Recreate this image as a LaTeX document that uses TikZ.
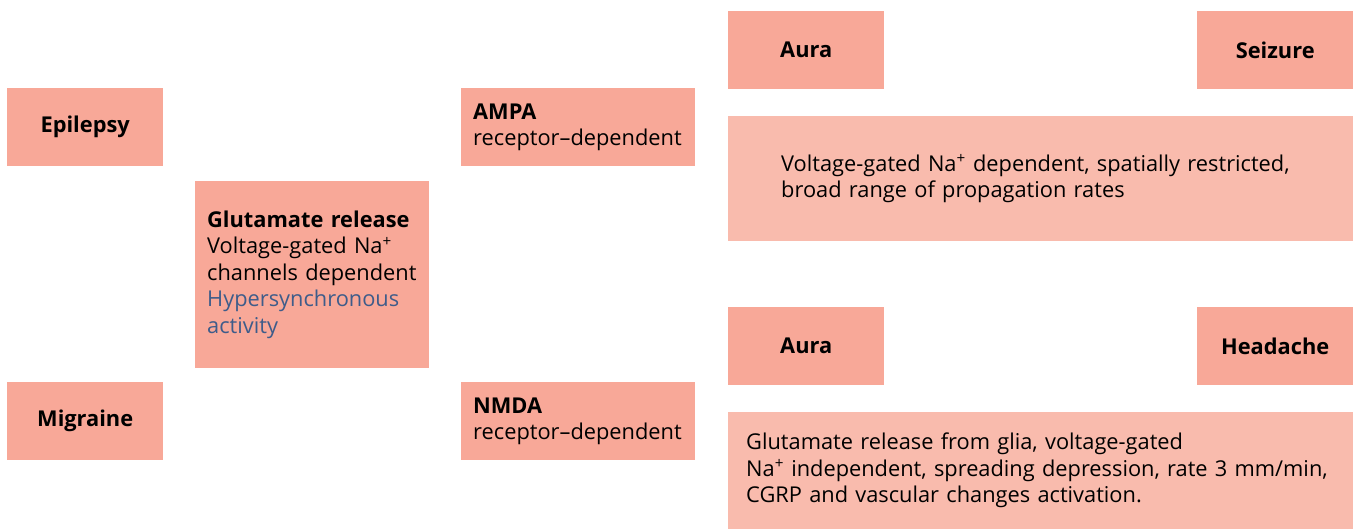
\documentclass[tikz,border=0pt]{standalone}
\usepackage{fontspec}
\setmainfont{Open Sans}
\definecolor{boxdark}{HTML}{F8A898}
\definecolor{boxlight}{HTML}{F9BBAD}
\definecolor{bluetext}{HTML}{3E5C8A}
\tikzset{
  x=1pt,y=1pt,
  base/.style={rectangle,draw=none,inner ysep=0pt,font=\fontsize{21.8}{26.5}\selectfont,anchor=north west},
  titlebox/.style={base,fill=boxdark,minimum width=156pt,minimum height=78pt,inner xsep=0pt,font=\fontsize{21.8}{26.5}\selectfont\bfseries},
  textbox/.style={base,fill=boxdark,align=left},
  infobox/.style={base,fill=boxlight,align=left},
}
\begin{document}
\begin{tikzpicture}
\useasboundingbox (0,0) rectangle (1354,530);
\node[titlebox] (epi) at (7,442) {Epilepsy};
\node[titlebox] (mig) at (7,148) {Migraine};
\node[textbox,text width=210pt,inner xsep=12pt,minimum height=187pt] (glu) at (195,349)
  {\textbf{Glutamate release}\\Voltage-gated Na\textsuperscript{+}\\channels dependent\\\textcolor{bluetext}{Hypersynchronous}\\\textcolor{bluetext}{activity}};
\node[textbox,text width=210pt,inner xsep=12pt,minimum height=78pt] (ampa) at (461,442)
  {\textbf{AMPA}\\receptor–dependent};
\node[textbox,text width=210pt,inner xsep=12pt,minimum height=78pt] (nmda) at (461,148)
  {\textbf{NMDA}\\receptor–dependent};
\node[titlebox] (aura1) at (728,519) {Aura};
\node[titlebox] (seiz) at (1197,519) {Seizure};
\node[infobox,text width=519pt,inner xsep=53pt,minimum height=125pt] (info1) at (728,414)
  {Voltage-gated Na\textsuperscript{+} dependent, spatially restricted,\\broad range of propagation rates};
\node[titlebox] (aura2) at (728,223) {Aura};
\node[titlebox] (head) at (1197,223) {Headache};
\node[infobox,text width=589pt,inner xsep=18pt,minimum height=117pt] (info2) at (728,118)
  {Glutamate release from glia, voltage-gated\\Na\textsuperscript{+} independent, spreading depression, rate 3 mm/min,\\CGRP and vascular changes activation.};
\end{tikzpicture}
\end{document}
